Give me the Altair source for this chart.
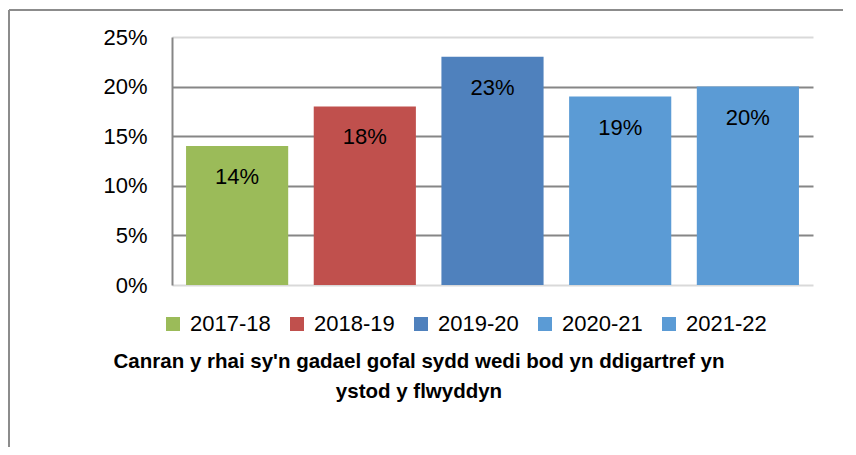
import altair as alt
import pandas as pd

years = ["2017-18", "2018-19", "2019-20", "2020-21", "2021-22"]
values = [0.14, 0.18, 0.23, 0.19, 0.20]
colors = ["#9BBB59", "#C0504D", "#4F81BD", "#5B9BD5", "#5B9BD5"]
y_ticks = [0, 0.05, 0.10, 0.15, 0.20, 0.25]
title_lines = ["Canran y rhai sy'n gadael gofal sydd wedi bod yn ddigartref yn",
               "ystod y flwyddyn"]

FONT = "Liberation Sans"

df = pd.DataFrame({"year": years, "value": values})

W, H = 641, 248

bars = alt.Chart(df).mark_bar().encode(
    x=alt.X("year:N", sort=years, axis=None,
            scale=alt.Scale(paddingInner=0.2, paddingOuter=0.11)),
    y=alt.Y("value:Q",
            scale=alt.Scale(domain=[0, 0.25], nice=False),
            axis=alt.Axis(values=y_ticks, format=".0%", title=None,
                          ticks=False, domainColor="#868686", domainWidth=2,
                          labelFont=FONT, labelFontSize=22, labelColor="#000000",
                          labelPadding=25,
                          gridColor={"condition": {"test": "datum.value == 0 || datum.value >= 0.25",
                                                   "value": "#D9D9D9"},
                                     "value": "#868686"},
                          gridWidth=2)),
    color=alt.Color("year:N",
                    scale=alt.Scale(domain=years, range=colors),
                    legend=alt.Legend(orient="none", legendX=-10, legendY=276,
                                      direction="horizontal", columns=5,
                                      title=None, symbolType="square",
                                      symbolSize=196, symbolStrokeWidth=0,
                                      labelFont=FONT, labelFontSize=22,
                                      labelColor="#000000",
                                      labelOffset=6, columnPadding=15)),
)

labels = alt.Chart(df).mark_text(baseline="middle", dy=31, font=FONT,
                                 fontSize=22, color="#000000").encode(
    x=alt.X("year:N", sort=years),
    y="value:Q",
    text=alt.Text("value:Q", format=".0%"),
)

t1 = alt.Chart(pd.DataFrame({"t": [title_lines[0]]})).mark_text(
    font=FONT, fontSize=20.5, fontWeight="bold", color="#000000",
    align="center", baseline="middle").encode(
    x=alt.value(247), y=alt.value(325), text="t:N")
t2 = alt.Chart(pd.DataFrame({"t": [title_lines[1]]})).mark_text(
    font=FONT, fontSize=20.5, fontWeight="bold", color="#000000",
    align="center", baseline="middle").encode(
    x=alt.value(247), y=alt.value(355), text="t:N")

one = pd.DataFrame({"a": [0]})
border_top = alt.Chart(one).mark_rule(color="#8C8C8C", strokeWidth=2).encode(
    x=alt.value(-163), x2=alt.value(720), y=alt.value(-27))
border_left = alt.Chart(one).mark_rule(color="#8C8C8C", strokeWidth=2).encode(
    x=alt.value(-163), y=alt.value(-27), y2=alt.value(470))

chart = alt.layer(bars, labels, t1, t2, border_top, border_left).properties(
    width=W, height=H,
    autosize=alt.AutoSizeParams(type="none"),
    padding={"left": 164, "top": 29, "right": 30, "bottom": 162},
).configure_view(stroke=None)

chart.save("out.html", embed_options={"renderer": "svg", "actions": False})
